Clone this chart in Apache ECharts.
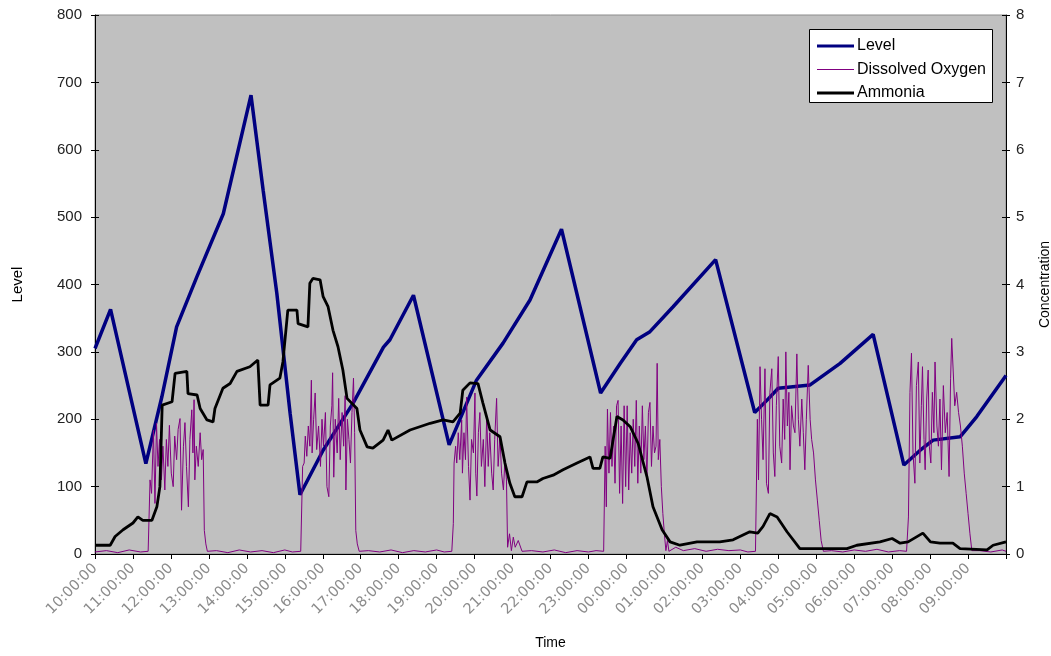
<!DOCTYPE html>
<html>
<head>
<meta charset="utf-8">
<script src="https://cdn.jsdelivr.net/npm/echarts@6/dist/echarts.min.js"></script>
<style>
html,body{margin:0;padding:0;background:#fff;}
#chart{width:1051px;height:656px;}
</style>
</head>
<body>
<div id="chart"></div>
<script>
// x values are hours elapsed since 10:00:00
const timeLabels = ['10:00:00','11:00:00','12:00:00','13:00:00','14:00:00','15:00:00','16:00:00','17:00:00','18:00:00','19:00:00','20:00:00','21:00:00','22:00:00','23:00:00','00:00:00','01:00:00','02:00:00','03:00:00','04:00:00','05:00:00','06:00:00','07:00:00','08:00:00','09:00:00'];
const seriesNames = ['Level','Dissolved Oxygen','Ammonia'];

const levelData = [
[0,305],[0.41,363],[1.34,134],[1.76,233],[2.15,337],[2.68,411],[3.38,505],[4.11,681],
[4.43,540],[4.79,387],[5.14,209],[5.40,88],[6.01,154],[6.80,224],[7.60,307],[7.77,318],
[8.39,384],[9.33,162],[10.05,258],[10.75,313],[11.46,377],[12.29,482],[13.32,239],[13.84,283],
[14.27,318],[14.62,330],[15.23,367],[16.35,437],[17.38,210],[17.70,228],[18.00,246],[18.84,251],
[19.63,283],[20.50,326],[21.31,132],[21.74,154],[22.08,169],[22.79,174],[23.23,204],[24,265]
];

const ammoniaData = [
[0.00,0.13],[0.40,0.13],[0.53,0.26],[0.74,0.36],[1.00,0.46],[1.13,0.55],[1.26,0.50],[1.50,0.50],
[1.63,0.70],[1.71,1.00],[1.77,2.21],[2.03,2.26],[2.11,2.68],[2.42,2.71],[2.45,2.38],[2.69,2.36],
[2.77,2.16],[2.95,1.99],[3.11,1.96],[3.16,2.16],[3.37,2.46],[3.56,2.53],[3.74,2.71],[4.08,2.78],
[4.29,2.88],[4.35,2.21],[4.56,2.21],[4.61,2.51],[4.87,2.61],[4.95,2.85],[5.08,3.62],[5.32,3.62],
[5.35,3.42],[5.61,3.37],[5.66,4.02],[5.74,4.09],[5.93,4.07],[6.01,3.82],[6.14,3.67],[6.27,3.32],
[6.40,3.08],[6.53,2.73],[6.64,2.31],[6.90,2.16],[6.98,1.84],[7.17,1.59],[7.32,1.57],[7.59,1.69],
[7.72,1.84],[7.82,1.69],[8.30,1.84],[8.83,1.94],[9.17,1.99],[9.43,1.96],[9.62,2.09],[9.69,2.43],
[9.88,2.54],[10.09,2.53],[10.22,2.24],[10.41,1.84],[10.67,1.74],[10.80,1.35],[10.93,1.05],[11.06,0.85],
[11.25,0.85],[11.38,1.07],[11.64,1.07],[11.80,1.12],[12.07,1.17],[12.33,1.25],[12.70,1.35],[13.04,1.44],
[13.12,1.27],[13.30,1.27],[13.38,1.44],[13.57,1.42],[13.75,2.04],[13.91,1.99],[14.10,1.89],[14.31,1.64],
[14.54,1.15],[14.70,0.70],[14.94,0.36],[15.15,0.18],[15.41,0.13],[15.86,0.18],[16.46,0.18],[16.81,0.21],
[17.25,0.33],[17.46,0.31],[17.60,0.41],[17.78,0.60],[17.97,0.55],[18.23,0.33],[18.57,0.08],[19.81,0.08],
[20.07,0.13],[20.68,0.18],[21.00,0.23],[21.21,0.16],[21.42,0.18],[21.81,0.31],[22.01,0.18],[22.26,0.16],
[22.60,0.16],[22.79,0.08],[23.50,0.06],[23.66,0.13],[24.00,0.18]
];

const doOff0 = [[0,0.03],[0.3,0.05],[0.6,0.02],[0.9,0.06],[1.2,0.03]];
const doBurst1 = [[1.40,0.04],[1.45,1.1],[1.49,0.9],[1.54,1.84],[1.58,0.75],[1.62,1.94],[1.66,1.3],[1.70,1.7],[1.75,1.1],[1.79,1.6],[1.84,0.95],[1.88,1.7],[1.92,1.3],[1.96,1.91],[2.01,1.2],[2.06,1.0],[2.10,1.75],[2.15,1.4],[2.19,1.85],[2.24,2.01],[2.28,0.65],[2.33,1.6],[2.37,1.95],[2.41,1.3],[2.46,0.7],[2.50,1.7],[2.55,2.14],[2.58,1.5],[2.61,2.29],[2.63,1.1],[2.67,1.6],[2.72,1.3],[2.77,1.8],[2.81,1.4],[2.85,1.55],[2.88,0.35],[2.92,0.15],[2.96,0.04]];
const doOff1 = [[3.2,0.05],[3.5,0.02],[3.8,0.06],[4.1,0.03],[4.4,0.05],[4.7,0.02],[5.0,0.06],[5.2,0.03]];
const doBurst2 = [[5.42,0.04],[5.47,1.3],[5.51,1.35],[5.54,1.75],[5.58,1.45],[5.62,1.9],[5.66,1.6],[5.70,2.58],[5.72,1.5],[5.76,2.0],[5.80,2.39],[5.84,1.55],[5.89,1.9],[5.94,1.3],[5.98,2.0],[6.02,1.6],[6.07,2.1],[6.11,1.0],[6.16,0.85],[6.20,1.9],[6.24,2.2],[6.26,2.69],[6.29,1.14],[6.33,2.0],[6.38,1.5],[6.42,2.31],[6.46,1.4],[6.51,2.1],[6.55,1.6],[6.59,2.35],[6.61,0.95],[6.65,2.0],[6.69,1.7],[6.73,1.35],[6.77,2.1],[6.81,2.61],[6.84,1.8],[6.87,0.35],[6.91,0.15],[6.96,0.04]];
const doOff2 = [[7.2,0.05],[7.5,0.03],[7.8,0.06],[8.1,0.02],[8.4,0.05],[8.7,0.03],[9.0,0.06],[9.2,0.03]];
const doBurst3 = [[9.40,0.04],[9.44,0.45],[9.46,1.35],[9.50,1.6],[9.53,1.35],[9.57,1.8],[9.61,1.4],[9.66,1.99],[9.68,1.2],[9.72,1.8],[9.76,1.4],[9.79,2.33],[9.84,1.3],[9.88,0.8],[9.92,1.7],[9.97,1.5],[10.01,2.39],[10.03,1.2],[10.06,0.86],[10.10,1.8],[10.14,2.1],[10.18,1.3],[10.23,1.7],[10.27,1.0],[10.32,2.05],[10.36,1.3],[10.40,1.8],[10.45,1.2],[10.49,0.95],[10.53,1.7],[10.58,2.31],[10.62,1.3],[10.67,1.75],[10.71,1.2],[10.76,0.95],[10.80,1.4],[10.84,1.1],[10.87,0.1],[10.92,0.3],[10.97,0.05],[11.02,0.25],[11.07,0.1],[11.15,0.2],[11.25,0.04]];
const doOff3 = [[11.5,0.05],[11.8,0.03],[12.1,0.06],[12.4,0.02],[12.7,0.05],[13.0,0.03],[13.2,0.05]];
const doBurst4 = [[13.40,0.04],[13.44,1.6],[13.47,0.7],[13.50,2.15],[13.54,1.2],[13.58,2.1],[13.62,1.3],[13.66,1.9],[13.70,1.05],[13.74,2.2],[13.78,2.28],[13.82,0.9],[13.86,1.9],[13.90,0.75],[13.94,2.2],[13.98,1.0],[14.02,2.2],[14.06,0.95],[14.10,1.8],[14.14,1.2],[14.18,2.0],[14.22,1.3],[14.26,2.28],[14.30,1.05],[14.34,1.9],[14.38,1.2],[14.42,2.2],[14.46,1.4],[14.50,1.9],[14.54,1.1],[14.58,2.1],[14.62,2.25],[14.66,1.3],[14.70,1.9],[14.74,1.5],[14.78,1.6],[14.81,2.83],[14.84,1.4],[14.88,1.7],[14.92,1.0],[14.96,0.6],[15.00,0.3],[15.04,0.05],[15.08,0.2],[15.12,0.04]];
const doOff4 = [[15.3,0.1],[15.5,0.05],[15.8,0.08],[16.1,0.04],[16.4,0.07],[16.7,0.05],[17.0,0.06],[17.2,0.03]];
const doBurst5 = [[17.40,0.04],[17.45,2.0],[17.48,1.1],[17.52,2.78],[17.56,2.0],[17.60,1.4],[17.65,2.75],[17.69,1.05],[17.74,0.9],[17.78,2.4],[17.83,2.75],[17.87,1.5],[17.91,1.15],[17.95,2.2],[18.00,2.93],[18.04,1.6],[18.09,1.35],[18.13,2.3],[18.17,1.7],[18.20,3.0],[18.24,1.9],[18.28,2.4],[18.31,1.25],[18.35,2.2],[18.40,1.9],[18.44,1.8],[18.49,2.97],[18.53,2.0],[18.57,1.6],[18.62,2.3],[18.66,1.8],[18.70,1.25],[18.74,2.0],[18.79,2.8],[18.84,2.0],[18.88,1.7],[18.93,1.5],[18.98,1.1],[19.03,0.8],[19.08,0.5],[19.13,0.2],[19.19,0.04]];
const doOff5 = [[19.4,0.05],[19.7,0.03],[20.0,0.06],[20.3,0.04],[20.6,0.07],[20.9,0.03],[21.2,0.05]];
const doBurst6 = [[21.38,0.04],[21.43,0.55],[21.47,2.4],[21.51,2.98],[21.55,1.5],[21.60,1.05],[21.64,2.5],[21.69,2.85],[21.73,1.35],[21.77,2.2],[21.80,2.78],[21.84,1.7],[21.87,1.25],[21.91,2.3],[21.95,2.73],[21.98,1.6],[22.02,1.35],[22.06,2.4],[22.10,1.8],[22.13,2.85],[22.18,1.9],[22.22,1.6],[22.26,2.3],[22.30,1.25],[22.35,2.5],[22.40,1.8],[22.45,2.1],[22.50,1.15],[22.54,2.6],[22.57,3.2],[22.61,3.22],[22.65,2.2],[22.70,2.4],[22.75,2.1],[22.80,1.9],[22.85,1.6],[22.90,1.2],[22.95,0.9],[23.00,0.6],[23.05,0.3],[23.10,0.05]];
const doOff6 = [[23.3,0.05],[23.6,0.03],[23.9,0.06],[24,0.04]];

const doData = [].concat(doOff0, doBurst1, doOff1, doBurst2, doOff2, doBurst3, doOff3, doBurst4, doOff4, doBurst5, doOff5, doBurst6, doOff6);

const FONT = 'Liberation Sans, Arial, sans-serif';
const WIDEFONT = 'DejaVu Sans, sans-serif';
const lineIcon = function (thick) {
  const top = (12 - thick) / 2;
  return 'path://M0,0M0,12M0,' + top + 'h40v' + thick + 'h-40z';
};
const tickOnly = function (pos, max, interval) {
  return {
    type: 'value', min: 0, max: max, interval: interval, position: pos,
    axisLine: {show: false}, axisLabel: {show: false}, splitLine: {show: false},
    axisTick: {show: true, inside: true, length: 4, lineStyle: {color: '#000'}}
  };
};

const chart = echarts.init(document.getElementById('chart'), null, {renderer:'canvas'});
chart.setOption({
  backgroundColor: '#ffffff',
  animation: false,
  textStyle: {fontFamily: FONT},
  grid: {left: 95, right: 45, top: 15, bottom: 102, containLabel: false, outerBoundsMode: 'none',
         show: true, backgroundColor: '#c0c0c0', borderColor: '#8c8c8c', borderWidth: 1},
  graphic: [{
    type: 'rect', left: 809, top: 29, z: 1,
    shape: {width: 183, height: 73},
    style: {fill: '#ffffff', stroke: '#000000', lineWidth: 1}
  }],
  legend: {
    orient: 'vertical', left: 812, top: 33, z: 5,
    itemWidth: 37, itemHeight: 12, itemGap: 7.5,
    itemStyle: {borderWidth: 0},
    textStyle: {fontFamily: FONT, fontSize: 16, color: '#000', padding: [0,0,0,-2]},
    data: [
      {name: seriesNames[0], icon: lineIcon(3.5), itemStyle: {color: '#000080'}},
      {name: seriesNames[1], icon: lineIcon(1), itemStyle: {color: '#800080'}},
      {name: seriesNames[2], icon: lineIcon(3), itemStyle: {color: '#000000'}}
    ]
  },
  xAxis: {
    type: 'value', min: 0, max: 24, interval: 1,
    name: 'Time', nameLocation: 'middle', nameGap: 82,
    nameTextStyle: {fontFamily: FONT, fontSize: 14, color: '#000'},
    axisLine: {show: true, onZero: false, lineStyle: {color: '#000', width: 1}},
    axisTick: {show: true, length: 5, lineStyle: {color: '#000'}},
    splitLine: {show: false},
    axisLabel: {
      rotate: 45, fontSize: 14.5, color: '#8c8c8c', margin: 12, fontFamily: WIDEFONT,
      formatter: function (v) { return timeLabels[Math.round(v)] || ''; }
    }
  },
  yAxis: [{
    type: 'value', min: 0, max: 800, interval: 100, position: 'left',
    name: 'Level', nameLocation: 'middle', nameGap: 70, nameRotate: 90,
    nameTextStyle: {fontFamily: FONT, fontSize: 15, color: '#000'},
    axisLine: {show: true, lineStyle: {color: '#000', width: 1}},
    axisTick: {show: true, length: 4, lineStyle: {color: '#000'}},
    splitLine: {show: false},
    axisLabel: {fontSize: 15, color: '#222', margin: 13, fontFamily: FONT}
  }, {
    type: 'value', min: 0, max: 8, interval: 1, position: 'right',
    name: 'Concentration', nameLocation: 'middle', nameGap: 32, nameRotate: 90,
    nameTextStyle: {fontFamily: FONT, fontSize: 14, color: '#000'},
    axisLine: {show: true, lineStyle: {color: '#000', width: 1}},
    axisTick: {show: true, length: 4, lineStyle: {color: '#000'}},
    splitLine: {show: false},
    axisLabel: {fontSize: 15, color: '#222', margin: 10, fontFamily: FONT}
  }, tickOnly('left', 800, 100), tickOnly('right', 8, 1)],
  series: [{
    name: seriesNames[0], type: 'line', yAxisIndex: 0, data: levelData,
    symbol: 'none', lineStyle: {color: '#000080', width: 3.5}, itemStyle: {color: '#000080'}, z: 2
  }, {
    name: seriesNames[1], type: 'line', yAxisIndex: 1, data: doData,
    symbol: 'none', lineStyle: {color: '#800080', width: 1}, itemStyle: {color: '#800080'}, z: 3
  }, {
    name: seriesNames[2], type: 'line', yAxisIndex: 1, data: ammoniaData,
    symbol: 'none', lineStyle: {color: '#000000', width: 2.8}, itemStyle: {color: '#000000'}, z: 4
  }]
});
</script>
</body>
</html>
